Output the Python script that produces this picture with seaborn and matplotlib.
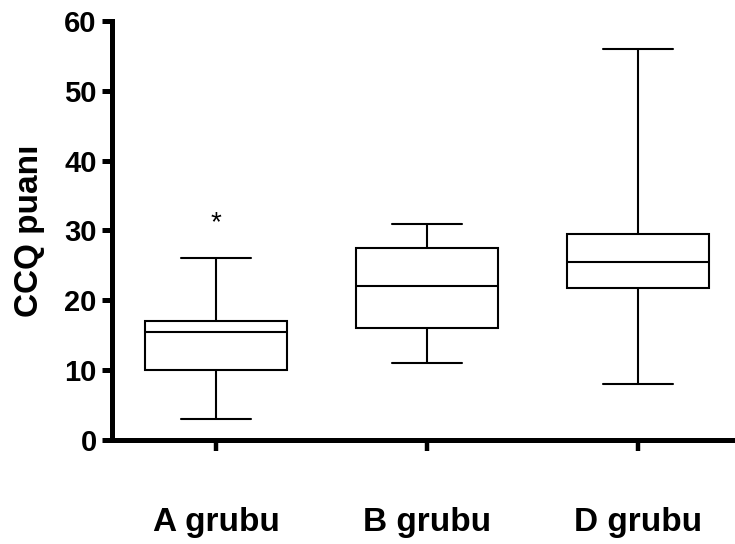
import pandas as pd
import matplotlib
matplotlib.use('Agg')
import matplotlib.pyplot as plt
import seaborn as sns

# five-number summaries (min, Q1, median, Q3, max)
groups = ['A grubu', 'B grubu', 'D grubu']
a_values = [3, 10, 15.5, 17, 26]
b_values = [11, 16, 22, 27.5, 31]
d_values = [8, 21.75, 25.5, 29.5, 56]
a_star = 31.0  # asterisk above group A
y_ticks = [0, 10, 20, 30, 40, 50, 60]

df = pd.DataFrame({
    'grup': [groups[0]] * len(a_values) + [groups[1]] * len(b_values) + [groups[2]] * len(d_values),
    'puan': a_values + b_values + d_values,
})

sns.set_style('ticks')
plt.rcParams['font.family'] = ['Liberation Sans', 'DejaVu Sans']

fig = plt.figure(figsize=(7.35, 5.44), dpi=100)
ax = fig.add_axes([0.1524, 0.1912, 0.8476, 0.7702])

sns.boxplot(data=df, x='grup', y='puan', order=groups, ax=ax,
            color='white', linecolor='black', linewidth=1.5,
            width=0.67, whis=(0, 100), fliersize=0, saturation=1)

ax.text(0, a_star, '*', ha='center', va='center', fontsize=20, color='black')

ax.set_xlim(-0.493, 2.46)
ax.set_ylim(0, 60)
ax.set_yticks(y_ticks)
ax.set_xlabel('')
ax.set_ylabel('CCQ puanı', fontsize=24, fontweight='bold', labelpad=14,
              color='black')

for side in ['top', 'right']:
    ax.spines[side].set_visible(False)
for side in ['left', 'bottom']:
    ax.spines[side].set_linewidth(3.6)
    ax.spines[side].set_color('black')

ax.tick_params(axis='y', direction='out', length=7, width=3.6, pad=4,
               labelsize=21, colors='black')
ax.tick_params(axis='x', direction='out', length=8, width=3.2, pad=40,
               labelsize=24, colors='black')
for lab in ax.get_xticklabels() + ax.get_yticklabels():
    lab.set_fontweight('bold')

plt.savefig('out.png', dpi=100)
